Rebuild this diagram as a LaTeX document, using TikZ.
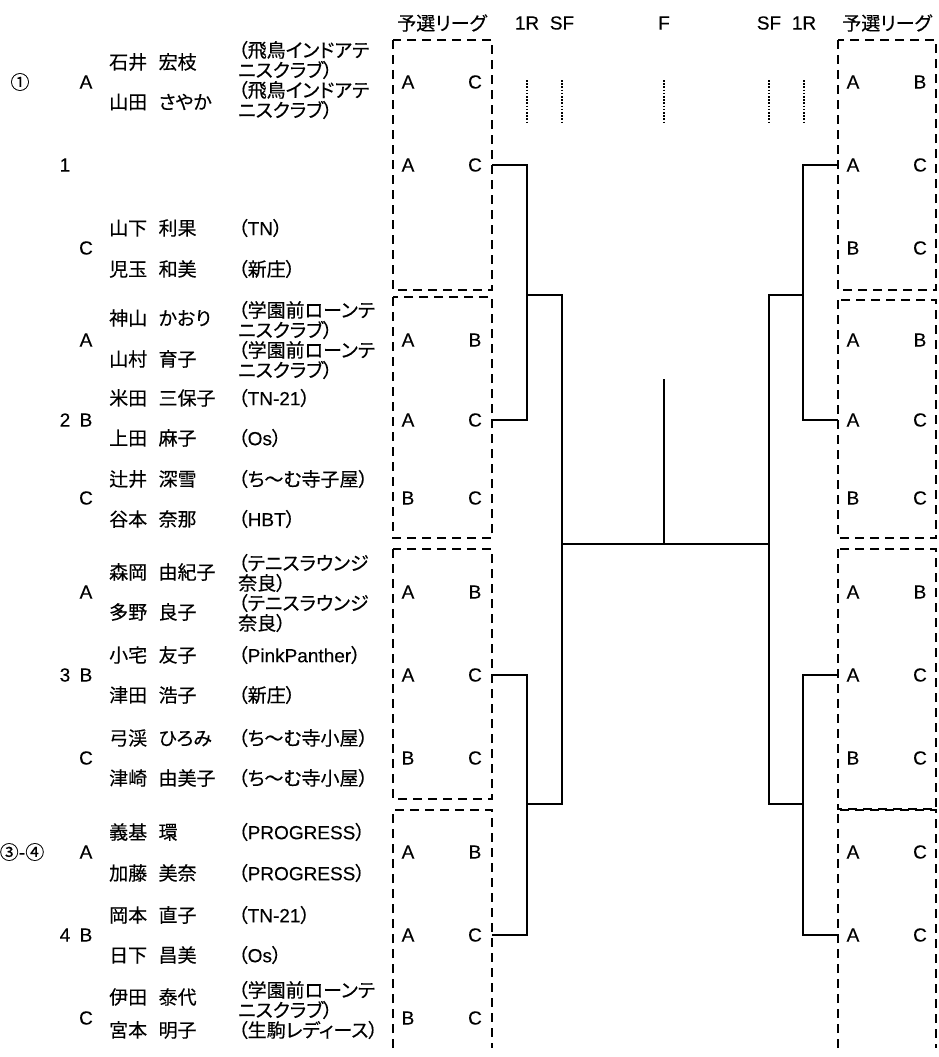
\documentclass[tikz,border=0pt]{standalone}
\usepackage{fontspec}
\setmainfont{Liberation Sans}
\newfontfamily\jp[RawFeature=+palt, FakeBold=0.3]{Noto Sans CJK JP}
\newfontfamily\latin[FakeBold=0.2]{Liberation Sans}
\newcommand{\lp}[1]{（{\latin #1}）}
\newcommand{\gp}{\hspace{0.6em}}
\begin{document}
\begin{tikzpicture}[x=1pt,y=-1pt,
  every node/.style={inner sep=0pt, font=\jp\fontsize{19}{20}\selectfont},
  nm/.style={anchor=west},
  cl/.style={anchor=west, align=left},
  lat/.style={font=\latin\fontsize{19}{20}\selectfont},
  dbox/.style={draw, dash pattern=on 9pt off 6pt, line width=1.2pt},
  br/.style={line width=1.3pt},
  dotv/.style={dash pattern=on 1.6pt off 1.6pt, line width=1.3pt}]
\useasboundingbox (0,0) rectangle (938,1057);

% headers
\node (hL) at (442,23) {予選リーグ};
\node (hR) at (887,23) {予選リーグ};
\node[lat] (h1L) at (527,23) {1R};
\node[lat] (hSL) at (562,23) {SF};
\node[lat] (hF) at (664,23) {F};
\node[lat] (hSR) at (769,23) {SF};
\node[lat] (h1R) at (804,23) {1R};

% dotted marks
\foreach \xx/\nn in {527/a,562/b,664/c,769/d,804/e}{
  \coordinate (dt\nn) at (\xx,80);
  \coordinate (db\nn) at (\xx,124);
  \draw[dotv] (dt\nn) -- (db\nn);
}

% seeds
\node (s1) at (20,82) {①};
\node (s34) at (22,852) {③-④};

% group letters
\node[lat] (g1A) at (86,82) {A};
\node[lat] (g1n) at (65,165) {1};
\node[lat] (g1C) at (86,248) {C};
\node[lat] (g2A) at (86,340) {A};
\node[lat] (g2n) at (65,420) {2};
\node[lat] (g2B) at (86,420) {B};
\node[lat] (g2C) at (86,498) {C};
\node[lat] (g3A) at (86,592) {A};
\node[lat] (g3n) at (65,675) {3};
\node[lat] (g3B) at (86,675) {B};
\node[lat] (g3C) at (86,758) {C};
\node[lat] (g4A) at (86,852) {A};
\node[lat] (g4n) at (65,935) {4};
\node[lat] (g4B) at (86,935) {B};
\node[lat] (g4C) at (86,1018) {C};

% names
\foreach \yy/\aa/\bb [count=\i] in {62/石井/宏枝,102/山田/さやか,228/山下/利果,269/児玉/和美,
  318/神山/かおり,359/山村/育子,398/米田/三保子,438/上田/麻子,479/辻井/深雪,519/谷本/奈那,
  572/森岡/由紀子,612/多野/良子,655/小宅/友子,695/津田/浩子,738/弓渓/ひろみ,778/津崎/由美子,
  832/義基/環,873/加藤/美奈,915/岡本/直子,955/日下/昌美,997/伊田/泰代,1030/宮本/明子}{
  \node[nm] (nm\i) at (109,\yy) {\aa\gp\bb};
}

% clubs
\node[cl] (c1) at (238,60) {（飛鳥インドアテ\\ニスクラブ）};
\node[cl] (c2) at (238,100) {（飛鳥インドアテ\\ニスクラブ）};
\node[cl] (c3) at (238,228) {\lp{TN}};
\node[cl] (c4) at (238,269) {（新庄）};
\node[cl] (c5) at (238,320) {（学園前ローンテ\\ニスクラブ）};
\node[cl] (c6) at (238,360) {（学園前ローンテ\\ニスクラブ）};
\node[cl] (c7) at (238,398) {\lp{TN-21}};
\node[cl] (c8) at (238,438) {\lp{Os}};
\node[cl] (c9) at (238,479) {（ち～む寺子屋）};
\node[cl] (c10) at (238,519) {\lp{HBT}};
\node[cl] (c11) at (238,573) {（テニスラウンジ\\奈良）};
\node[cl] (c12) at (238,613) {（テニスラウンジ\\奈良）};
\node[cl] (c13) at (238,655) {\lp{PinkPanther}};
\node[cl] (c14) at (238,695) {（新庄）};
\node[cl] (c15) at (238,738) {（ち～む寺小屋）};
\node[cl] (c16) at (238,778) {（ち～む寺小屋）};
\node[cl] (c17) at (238,832) {\lp{PROGRESS}};
\node[cl] (c18) at (238,873) {\lp{PROGRESS}};
\node[cl] (c19) at (238,915) {\lp{TN-21}};
\node[cl] (c20) at (238,955) {\lp{Os}};
\node[cl] (c21) at (238,1000) {（学園前ローンテ\\ニスクラブ）};
\node[cl] (c22) at (238,1030) {（生駒レディース）};

% dashed boxes left
\draw[dbox] (393,40) rectangle (492,290);
\draw[dbox] (393,297) rectangle (492,538);
\draw[dbox] (393,549) rectangle (492,799);
\draw[dbox] (393,1048) -- (393,810) -- (492,810) -- (492,1048);
% dashed boxes right
\draw[dbox] (838,40) rectangle (936,290);
\draw[dbox] (838,300) rectangle (936,538);
\draw[dbox] (838,549) rectangle (936,809);
\draw[dbox] (838,1048) -- (838,810) -- (936,810) -- (936,1048);

% box contents
\foreach \yy/\a/\b [count=\i] in {82/A/C,165/A/C,340/A/B,420/A/C,498/B/C,592/A/B,675/A/C,758/B/C,852/A/B,935/A/C,1018/B/C}{
  \node[lat] (la\i) at (408,\yy) {\a};
  \node[lat] (lb\i) at (475,\yy) {\b};
}
\foreach \yy/\a/\b [count=\i] in {82/A/B,165/A/C,248/B/C,340/A/B,420/A/C,498/B/C,592/A/B,675/A/C,758/B/C,852/A/C,935/A/C}{
  \node[lat] (ra\i) at (853,\yy) {\a};
  \node[lat] (rb\i) at (920,\yy) {\b};
}

% bracket ports
\coordinate (pL1) at (492,165);
\coordinate (pL2) at (492,420);
\coordinate (pL3) at (492,675);
\coordinate (pL4) at (492,935);
\coordinate (pR1) at (838,165);
\coordinate (pR2) at (838,420);
\coordinate (pR3) at (838,675);
\coordinate (pR4) at (838,935);
\coordinate (jL1) at (527,295);
\coordinate (jL2) at (527,804);
\coordinate (jR1) at (803,295);
\coordinate (jR2) at (803,804);
\coordinate (sL) at (562,544);
\coordinate (sR) at (769,544);
\coordinate (fB) at (664,544);
\coordinate (fT) at (664,379);

\draw[br] (pL1) -| (jL1) |- (pL2);
\draw[br] (pL3) -| (jL2) |- (pL4);
\draw[br] (jL1) -| (sL) |- (jL2);
\draw[br] (pR1) -| (jR1) |- (pR2);
\draw[br] (pR3) -| (jR2) |- (pR4);
\draw[br] (jR1) -| (sR) |- (jR2);
\draw[br] (sL) -- (sR);
\draw[br] (fB) -- (fT);
\end{tikzpicture}
\end{document}
